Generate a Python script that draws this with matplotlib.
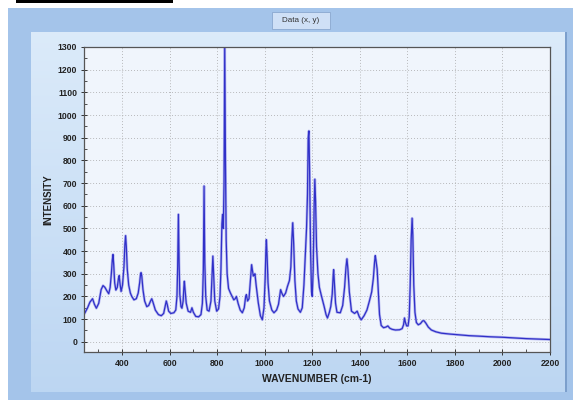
import numpy as np
import matplotlib
matplotlib.use("Agg")
from matplotlib import pyplot as plt
from matplotlib.patches import Rectangle
from matplotlib.ticker import MultipleLocator

# spectrum (wavenumber, intensity)
wavenumber = [244, 255, 265, 276, 284, 292, 302, 312, 320, 328, 336, 344, 350, 355, 359,
              362, 365, 369, 374, 380, 385, 388, 391, 396, 402, 408, 412, 415, 418, 422,
              428, 435, 441, 450, 460, 468, 474, 478, 480, 483, 488, 495, 504, 512, 520,
              525, 530, 540, 553, 565, 575, 582, 586, 590, 596, 605, 618, 626, 631, 634,
              637, 640, 643, 648, 652, 657, 660, 662, 665, 670, 678, 688, 694, 700, 710,
              722, 732, 738, 742, 745, 748, 752, 758, 766, 774, 779, 782, 785, 790, 798,
              806, 812, 816, 820, 823, 826, 829, 832, 835, 838, 842, 848, 856, 863, 870,
              876, 881, 888, 897, 906, 914, 920, 923, 928, 934, 940, 945, 949, 952, 956,
              959, 964, 973, 982, 990, 997, 1002, 1005, 1007, 1010, 1014, 1020, 1030, 1039,
              1050, 1058, 1063, 1067, 1072, 1079, 1088, 1096, 1104, 1110, 1114, 1118, 1122,
              1127, 1133, 1140, 1150, 1158, 1165, 1170, 1176, 1180, 1183, 1186, 1189, 1193,
              1197, 1200, 1204, 1208, 1211, 1214, 1218, 1224, 1230, 1238, 1250, 1258, 1264,
              1272, 1278, 1284, 1288, 1290, 1293, 1298, 1304, 1318, 1328, 1336, 1342, 1346,
              1350, 1356, 1365, 1378, 1389, 1398, 1406, 1418, 1430, 1440, 1450, 1457, 1462,
              1465, 1468, 1473, 1478, 1483, 1490, 1500, 1510, 1518, 1526, 1536, 1550, 1567,
              1578, 1584, 1588, 1592, 1597, 1603, 1608, 1612, 1616, 1620, 1623, 1627, 1632,
              1638, 1646, 1655, 1664, 1670, 1678, 1688, 1701, 1720, 1743, 1780, 1814, 1860,
              1900, 1950, 2000, 2050, 2100, 2150, 2200]
intensity = [128, 150, 175, 190, 165, 148, 170, 230, 248, 240, 225, 212, 240, 300, 360,
             385, 340, 260, 228, 240, 280, 292, 260, 222, 250, 330, 430, 468, 420, 320,
             250, 215, 200, 185, 190, 215, 260, 300, 305, 290, 230, 180, 155, 160, 180,
             190, 175, 140, 120, 115, 125, 160, 180, 165, 135, 125, 128, 140, 200, 330,
             562, 350, 210, 155, 148, 180, 240, 267, 230, 170, 135, 130, 150, 130, 112,
             110, 120, 170, 320, 687, 350, 200, 140, 135, 180, 300, 378, 300, 180, 135,
             145, 200, 320, 520, 562, 500, 700, 1300, 800, 450, 300, 235, 215, 200, 185,
             190, 200, 170, 140, 128, 150, 200, 208, 180, 190, 270, 340, 310, 290, 295,
             300, 250, 172, 115, 97, 150, 280, 400, 450, 380, 260, 180, 140, 128,
             140, 165, 200, 230, 215, 200, 215, 245, 270, 330, 450, 525, 430,
             270, 180, 145, 130, 150, 250, 360, 500, 650, 900, 930, 750, 400,
             220, 200, 320, 600, 717, 620, 420, 300, 240, 205, 156, 120, 105,
             130, 156, 210, 290, 318, 260, 170, 130, 128, 160, 240, 330, 366,
             320, 220, 135, 125, 135, 110, 97, 115, 140, 178, 220, 280, 350,
             380, 360, 320, 220, 120, 72, 62, 65, 70, 60, 55, 52, 53,
             58, 75, 105, 85, 70, 70, 110, 250, 450, 545, 470, 250, 130,
             85, 75, 80, 92, 93, 82, 65, 52, 44, 38, 34, 31, 27,
             25, 22, 20, 17, 14, 12, 10]

W, H = 573, 400
fig = plt.figure(figsize=(W / 100, H / 100), dpi=100)
fig.patch.set_facecolor("white")


def px_rect(x0, y0, x1, y1, z=-10, **kw):
    # rectangle given in pixel coords (origin top-left)
    r = Rectangle((x0 / W, 1 - y1 / H), (x1 - x0) / W, (y1 - y0) / H,
                  transform=fig.transFigure, zorder=z, **kw)
    fig.patches.append(r)


px_rect(16, 0, 173, 3, facecolor="black", edgecolor="none")
px_rect(8, 8, 573, 400, facecolor="#a4c4ea", edgecolor="none")

# inner panel with a soft vertical gradient
bg = fig.add_axes([31 / W, 1 - 392 / H, (565 - 31) / W, (392 - 32) / H], zorder=-5)
grad = np.linspace(0, 1, 256).reshape(-1, 1)
top = np.array([0.86, 0.92, 0.98])
bot = np.array([0.74, 0.84, 0.95])
img = top + (bot - top) * grad[:, :, None]
bg.imshow(img, aspect="auto", extent=[0, 1, 0, 1])
bg.set_axis_off()
px_rect(565, 32, 567, 392, z=5, facecolor="#7c9fcc", edgecolor="none")

# title box
px_rect(272, 12, 330, 29, z=5, facecolor="#cfe0f6", edgecolor="#8aa8cf", linewidth=0.6)
fig.text(301 / W, 1 - 20.5 / H, "Data (x, y)", ha="center", va="center",
         fontsize=5.8, color="#333333", family="Liberation Sans", zorder=6)

ax = fig.add_axes([84 / W, 1 - 352 / H, (550 - 84) / W, (352 - 47) / H])
ax.set_facecolor("#f0f5fc")
ax.plot(wavenumber, intensity, color="#8c8ce8", lw=1.9, alpha=0.6)
ax.plot(wavenumber, intensity, color="#3030c8", lw=0.9)

ax.set_xlim(240, 2200)
ax.set_ylim(-45, 1300)
ax.xaxis.set_major_locator(MultipleLocator(200))
ax.xaxis.set_minor_locator(MultipleLocator(100))
ax.yaxis.set_major_locator(MultipleLocator(100))
ax.yaxis.set_minor_locator(MultipleLocator(50))
ax.grid(True, which="major", color="#a5a5a5", linestyle=(0, (1, 2.5)), linewidth=0.6)

ax.tick_params(which="major", direction="inout", length=4, width=0.7,
               color="#333333", labelsize=6.2, pad=3)
ax.tick_params(which="minor", direction="in", length=2.5, width=0.6, color="#333333")
for lab in ax.get_xticklabels() + ax.get_yticklabels():
    lab.set_fontweight("bold")
    lab.set_family("Liberation Sans")
    lab.set_color("#222222")
for s in ax.spines.values():
    s.set_color("#555555")
    s.set_linewidth(0.9)

ax.set_xlabel("WAVENUMBER (cm-1)", fontsize=7.5, fontweight="bold",
              family="Liberation Sans", color="#222222", labelpad=4)
ax.set_ylabel("INTENSITY", fontsize=7, fontweight="bold",
              family="Liberation Sans", color="#222222", labelpad=3)

fig.savefig("out.png", dpi=100)
